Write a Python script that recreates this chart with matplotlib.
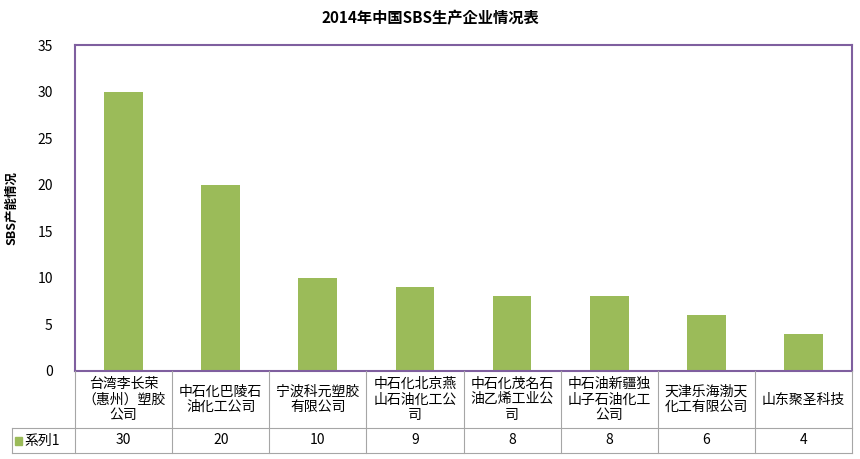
import matplotlib
matplotlib.use("Agg")
import matplotlib.pyplot as plt
from matplotlib.lines import Line2D
from matplotlib import font_manager as fm

cjk = [f for f in fm.fontManager.ttflist if "CJK" in f.name]
names = sorted(set(f.name for f in cjk))
fam = next((n for n in names if "SC" in n), names[0] if names else "DejaVu Sans")
plt.rcParams["font.family"] = [fam, "DejaVu Sans"]

categories = ["台湾李长荣\n（惠州）塑胶\n公司", "中石化巴陵石\n油化工公司", "宁波科元塑胶\n有限公司",
              "中石化北京燕\n山石油化工公\n司", "中石化茂名石\n油乙烯工业公\n司", "中石油新疆独\n山子石油化工\n公司",
              "天津乐海渤天\n化工有限公司", "山东聚圣科技"]
values = [30, 20, 10, 9, 8, 8, 6, 4]
series_name = "系列1"
title = "2014年中国SBS生产企业情况表"
ylabel = "SBS产能情况"

W, H = 860, 459
fig = plt.figure(figsize=(W/100, H/100), dpi=100)
L, R, T, B = 75, 852, 45, 371
ax = fig.add_axes([L/W, 1-B/H, (R-L)/W, (B-T)/H])
n = len(values)
ax.bar(range(n), values, width=0.4, color="#9BBB59")
ax.set_xlim(-0.5, n-0.5)
ax.set_ylim(0, 35)
ax.set_yticks(range(0, 36, 5))
ax.tick_params(axis="y", labelsize=10, length=0, pad=16)
ax.set_xticks([])
for s in ax.spines.values():
    s.set_color("#7F5F9F")
    s.set_linewidth(1.5)
ax.set_ylabel(ylabel, fontsize=9, fontweight="bold", labelpad=14)
fig.text(0.5, 1-18/H, title, ha="center", va="center", fontsize=11, fontweight="bold")

lc = "#A6A6A6"
y1, y2, y3 = 371, 428, 453
def fx(x): return x/W
def fy(y): return 1-y/H
cw = (R-L)/n
for i in range(n+1):
    x = L + i*cw
    fig.add_artist(Line2D([fx(x), fx(x)], [fy(y1), fy(y3)], color=lc, lw=0.8))
fig.add_artist(Line2D([fx(12), fx(12)], [fy(y2), fy(y3)], color=lc, lw=0.8))
fig.add_artist(Line2D([fx(12), fx(R)], [fy(y2), fy(y2)], color=lc, lw=0.8))
fig.add_artist(Line2D([fx(12), fx(R)], [fy(y3), fy(y3)], color=lc, lw=0.8))
for i, (c, v) in enumerate(zip(categories, values)):
    xc = L + (i+0.5)*cw
    fig.text(fx(xc), fy((y1+y2)/2), c, ha="center", va="center", fontsize=10, linespacing=1.15)
    fig.text(fx(xc), fy((y2+y3)/2), str(v), ha="center", va="center", fontsize=10)
fig.patches.append(plt.Rectangle((fx(15), fy(445)), 7/W, 8/H, transform=fig.transFigure, color="#9BBB59"))
fig.text(fx(24), fy((y2+y3)/2), series_name, ha="left", va="center", fontsize=10)

fig.savefig("out.png", dpi=100)
